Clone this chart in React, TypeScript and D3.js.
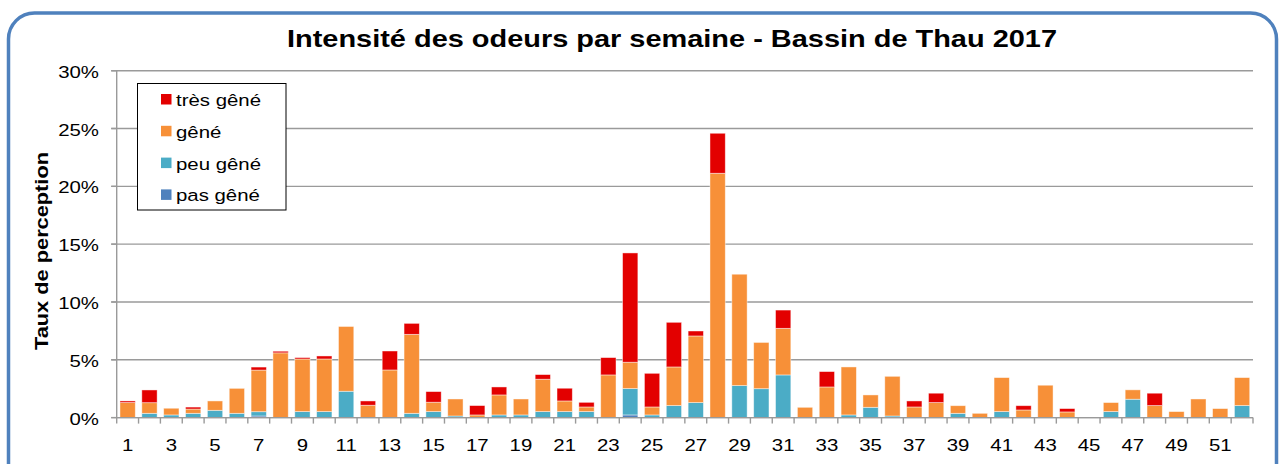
import React from "react";
import * as d3 from "d3";

const weeks: number[] = Array.from({ length: 52 }, (_, i) => i + 1);
const tickLabels: string[] = weeks.filter((w) => w % 2 === 1).map(String);
const yTicks: number[] = [0, 5, 10, 15, 20, 25, 30];

const tresGene: number[] = [0.14,1.1,0,0.17,0,0,0.26,0.14,0.12,0.26,0,0.37,1.64,0.95,0.92,0,0.81,0.69,0,0.4,1.1,0.4,1.5,9.45,2.91,3.86,0.43,3.46,0,0,1.58,0,1.33,0,0,0,0.52,0.81,0,0,0,0.37,0,0.29,0,0,0,1.07,0,0,0,0];
const gene: number[] = [1.3,0.92,0.58,0.37,0.81,2.16,3.6,5.6,4.55,4.55,5.6,1.07,4.12,6.83,0.81,1.47,0.23,1.73,1.38,2.8,0.92,0.4,3.69,2.28,0.69,3.34,5.76,21.13,9.63,4.0,4.03,0.89,2.65,4.15,1.07,3.43,0.92,1.3,0.66,0.37,2.94,0.66,2.8,0.49,0,0.78,0.81,1.04,0.52,1.61,0.78,2.42];
const peuGene: number[] = [0,0.37,0.23,0.37,0.63,0.37,0.37,0,0.52,0.52,2.28,0,0,0.37,0.52,0.14,0,0.23,0.23,0.52,0.52,0.52,0,2.28,0.23,1.04,1.3,0,2.77,2.5,3.69,0,0,0.23,0.89,0.14,0,0,0.37,0,0.52,0,0,0,0,0.52,1.59,0,0,0,0,1.04];
const pasGene: number[] = [0,0,0,0,0,0,0.14,0,0,0,0,0,0,0,0,0,0,0,0,0,0,0,0,0.23,0,0,0,0,0,0,0,0,0,0,0,0,0,0,0,0,0,0,0,0,0,0,0,0,0,0,0,0];

const seriesKeys = ["pas", "peu", "gene", "tres"];
const seriesNames: Record<string, string> = { tres: "très gêné", gene: "gêné", peu: "peu gêné", pas: "pas gêné" };
const colors: Record<string, string> = { tres: "#E30000", gene: "#F79038", peu: "#4BACC6", pas: "#4F81BD" };
const legendOrder = ["tres", "gene", "peu", "pas"];

const W = 1281, H = 464;
const left = 116.7, right = 1253, top = 70.7, bottom = 417.6;
const SX = 1.2;
const FONT = "'Liberation Sans', Arial, sans-serif";

function SText(props: { x: number; y: number; size: number; anchor?: string; weight?: string; children: any; color?: string }) {
  const { x, y, size, anchor = "start", weight = "normal", children, color = "#000" } = props;
  return (
    <g transform={`translate(${x},${y}) scale(${SX},1)`}>
      <text x={0} y={0} fontSize={size} fontFamily={FONT} fontWeight={weight} textAnchor={anchor as any} fill={color}>
        {children}
      </text>
    </g>
  );
}

export default function App() {
  const table = weeks.map((w, i) => ({ week: w, pas: pasGene[i], peu: peuGene[i], gene: gene[i], tres: tresGene[i] }));
  const stacked = d3.stack<any>().keys(seriesKeys)(table);
  const x = d3.scaleBand<number>().domain(weeks).range([left, right]).paddingInner(0.3).paddingOuter(0.15);
  const xb = d3.scaleBand<number>().domain(weeks).range([left, right]);
  const y = d3.scaleLinear().domain([0, 30]).range([bottom, top]);

  return (
    <svg width={W} height={H} style={{ position: "absolute", left: 0, top: 0, background: "#fff" }}>
      <rect x={0} y={0} width={W} height={H} fill="#fff" />
      <rect x={8.5} y={13} width={1268} height={480} rx={26} ry={26} fill="#fff" stroke="#4F81BD" strokeWidth={3.5} />
      {/* gridlines */}
      {yTicks.map((t) => (
        <g key={t}>
          <line x1={t === 0 ? left : left - 5.5} x2={right} y1={y(t)} y2={y(t)} stroke="#9a9a9a" strokeWidth={1.4} />
          <line x1={left - 5.5} x2={left} y1={y(t)} y2={y(t)} stroke="#9a9a9a" strokeWidth={1.4} />
          <SText x={99} y={y(t) + 7} size={17} anchor="end">{`${t}%`}</SText>
        </g>
      ))}
      {/* bars */}
      {stacked.map((s) => (
        <g key={s.key} fill={colors[s.key]}>
          {s.map((d: any) =>
            d[1] - d[0] > 0 ? (
              <rect
                key={d.data.week}
                x={x(d.data.week)}
                y={y(d[1])}
                width={x.bandwidth()}
                height={y(d[0]) - y(d[1])}
                stroke="#ffffff"
                strokeOpacity={0.55}
                strokeWidth={0.8}
              />
            ) : null
          )}
        </g>
      ))}
      {/* axes */}
      <line x1={left} x2={left} y1={top} y2={bottom} stroke="#9a9a9a" strokeWidth={1.4} />
      <line x1={left - 5.5} x2={right} y1={bottom} y2={bottom} stroke="#9a9a9a" strokeWidth={1.4} />
      {weeks.concat([53]).map((w, i) => {
        const px = left + i * xb.bandwidth();
        return <line key={w} x1={px} x2={px} y1={bottom} y2={bottom + 6} stroke="#9a9a9a" strokeWidth={1.4} />;
      })}
      {tickLabels.map((l) => (
        <SText key={l} x={(xb(Number(l)) as number) + xb.bandwidth() / 2} y={451} size={17} anchor="middle">{l}</SText>
      ))}
      {/* y label */}
      <g transform={`translate(47.5,251) rotate(-90)`}>
        <text x={0} y={0} fontSize={18.5} fontWeight="bold" fontFamily={FONT} textAnchor="middle" textLength={198} lengthAdjust="spacingAndGlyphs">
          Taux de perception
        </text>
      </g>
      {/* title */}
      <text x={672} y={46.5} fontSize={24.5} fontWeight="bold" fontFamily={FONT} textAnchor="middle" textLength={770} lengthAdjust="spacingAndGlyphs">
        Intensité des odeurs par semaine - Bassin de Thau 2017
      </text>
      {/* legend */}
      <rect x={137.5} y={83.5} width={148.5} height={126.5} fill="#fff" stroke="#000" strokeWidth={1} />
      {legendOrder.map((k, i) => (
        <g key={k}>
          <rect x={161} y={94 + i * 31.8} width={10.5} height={10.5} fill={colors[k]} />
          <SText x={176} y={106 + i * 31.8} size={17}>{seriesNames[k]}</SText>
        </g>
      ))}
    </svg>
  );
}
